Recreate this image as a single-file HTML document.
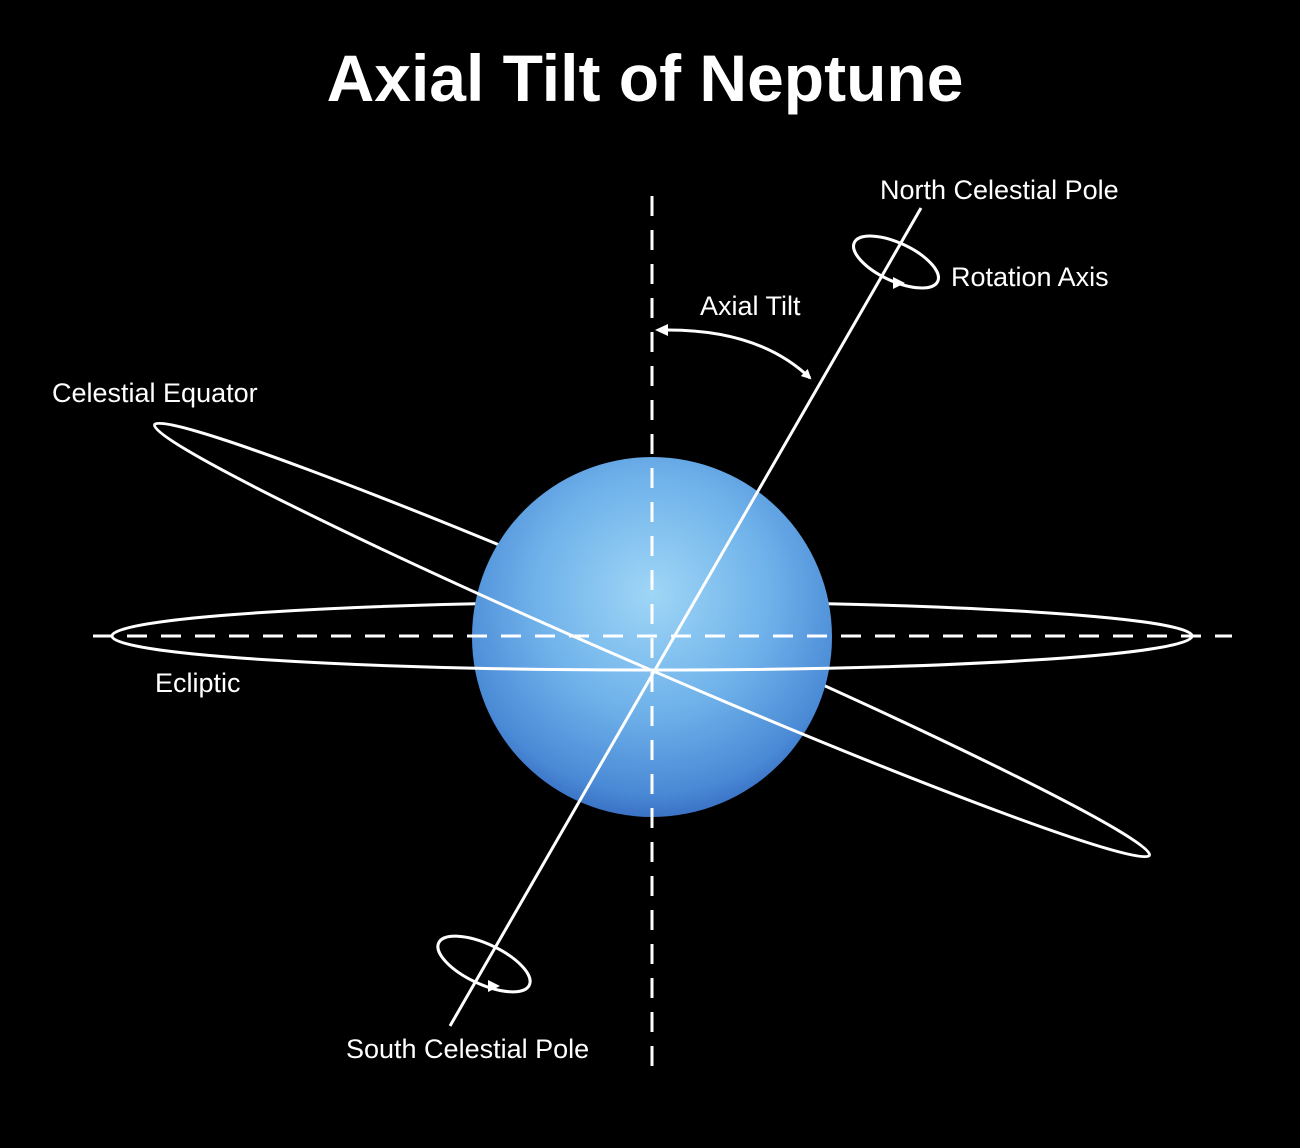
<!DOCTYPE html>
<html><head><meta charset="utf-8"><style>
html,body{margin:0;padding:0;background:#000;}
svg{display:block;}
text{font-family:"Liberation Sans",sans-serif;fill:#fff;}
</style></head><body>
<svg width="1300" height="1148" viewBox="0 0 1300 1148" xmlns="http://www.w3.org/2000/svg">
<defs>
<radialGradient id="pg" cx="0.5" cy="0.38" r="0.65">
<stop offset="0" stop-color="#9fd6f6"/>
<stop offset="0.5" stop-color="#6fb2ea"/>
<stop offset="0.85" stop-color="#4a8ad6"/>
<stop offset="1" stop-color="#3467bd"/>
</radialGradient>
<clipPath id="front"><rect x="0" y="636" width="1300" height="600"/></clipPath>
<clipPath id="back"><rect x="0" y="0" width="1300" height="636"/></clipPath>
<marker id="ah" markerWidth="10" markerHeight="10" refX="8" refY="5" orient="auto" markerUnits="userSpaceOnUse"><path d="M0,0 L10,5 L0,10 Z" fill="#fff"/></marker>
</defs>
<rect width="1300" height="1148" fill="#000"/>
<text x="645" y="101" font-size="66" font-weight="bold" text-anchor="middle">Axial Tilt of Neptune</text>

<g fill="none" stroke="#fff" stroke-width="3">
<ellipse cx="652" cy="636" rx="540" ry="34" clip-path="url(#back)"/>
<g transform="rotate(23.4 652 640)"><ellipse cx="652" cy="640" rx="542" ry="28" style="clip-path:inset(0 0 50% 0)"/></g>
</g>

<circle cx="652" cy="637" r="180" fill="url(#pg)"/>

<g fill="none" stroke="#fff" stroke-width="3">
<ellipse cx="652" cy="636" rx="540" ry="34" clip-path="url(#front)"/>
<g transform="rotate(23.4 652 640)"><ellipse cx="652" cy="640" rx="542" ry="28" style="clip-path:inset(50% 0 0 0)"/></g>
</g>

<g stroke="#fff" stroke-width="3" stroke-dasharray="20,14" fill="none">
<line x1="652" y1="196" x2="652" y2="1072"/>
<line x1="93" y1="636" x2="1232" y2="636"/>
</g>

<line x1="921" y1="208" x2="450" y2="1026" stroke="#fff" stroke-width="3"/>

<g fill="none" stroke="#fff" stroke-width="3">
<ellipse cx="896" cy="262" rx="46" ry="19" transform="rotate(25 896 262)"/>
<ellipse cx="484" cy="964" rx="50" ry="20" transform="rotate(25 484 964)"/>
<path d="M668,330 Q760,330 810,378" marker-end="url(#ah)"/>
</g>
<path d="M655,330 L668,324 L668,336 Z" fill="#fff"/>
<path d="M905,283 L893,277 L893,289 Z" fill="#fff"/>
<path d="M500,986 L488,980 L488,992 Z" fill="#fff"/>

<text x="880" y="199" font-size="27">North Celestial Pole</text>
<text x="951" y="286" font-size="27">Rotation Axis</text>
<text x="700" y="315" font-size="27">Axial Tilt</text>
<text x="52" y="402" font-size="27">Celestial Equator</text>
<text x="155" y="692" font-size="27">Ecliptic</text>
<text x="346" y="1058" font-size="27">South Celestial Pole</text>
</svg>
</body></html>
